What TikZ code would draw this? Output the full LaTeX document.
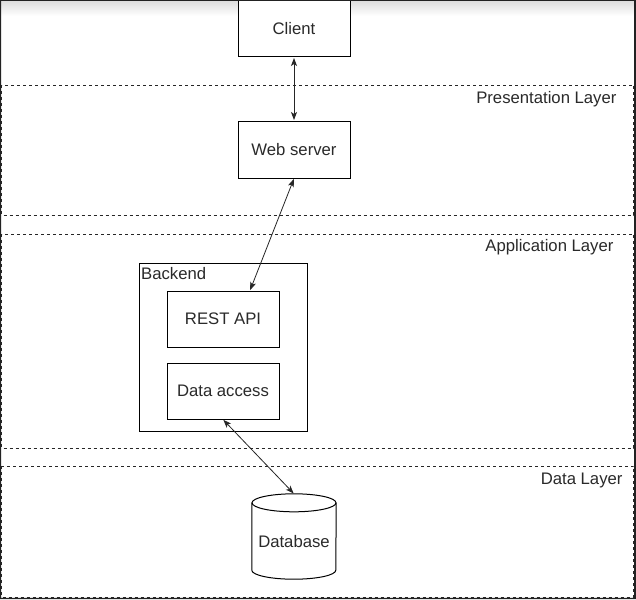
\documentclass[tikz,border=0pt]{standalone}
\usepackage{fontspec}
\setmainfont{Liberation Sans}
\usetikzlibrary{arrows.meta,calc}
\definecolor{ink}{HTML}{2A2A2A}
\definecolor{frame}{HTML}{222222}
\begin{document}
\begin{tikzpicture}[x=1pt,y=-1pt,
  every node/.style={font=\fontsize{16.7}{19}\selectfont, text=ink},
  box/.style={draw=black, line width=1pt, fill=white, minimum width=112pt, minimum height=56pt, inner sep=0pt},
  layer/.style={draw=black!85, line width=0.8pt, dash pattern=on 3pt off 3pt},
  link/.style={draw=black!85, line width=0.8pt, {Stealth[length=8pt,width=6pt,inset=2pt]}-{Stealth[length=8pt,width=6pt,inset=2pt]}, shorten <=0.5pt, shorten >=0.5pt}
]
% page
\useasboundingbox (0,0) rectangle (636,599);
\fill[white] (0,0) rectangle (636,599);
\shade[top color=black!14, bottom color=white] (0,0) rectangle (636,16);

% layer bands
\draw[layer] (1.5,85) rectangle (633.5,215);
\draw[layer] (1.5,234) rectangle (633.5,448);
\draw[layer] (1.5,466) rectangle (633.5,597);
\node[anchor=east] (lpres) at (620,99) {Presentation Layer};
\node[anchor=east] (lapp) at (617,247) {Application Layer};
\node[anchor=east] (ldata) at (626,480) {Data Layer};

% presentation tier
\node[box] (client) at (294,29) {Client};
\node[box, minimum height=57pt] (web) at (294,149.5) {Web server};

% application tier
\node[box, minimum width=168pt, minimum height=168pt] (backend) at (223,347) {};
\node[anchor=north west, inner sep=0pt] (backendlbl) at ($(backend.north west)+(2.5,5)$) {Backend};
\node[box] (rest) at (223,319) {REST API};
\node[box] (dao) at (223,391) {Data access};

% data tier: cylinder around the label node
\node[minimum width=84pt, minimum height=85pt, inner sep=0pt] (db) at (294,536.5) {};
\fill[white] ($(db.north west)+(0,9)$) -- ($(db.south west)+(0,-9)$)
  arc[start angle=180,end angle=0,x radius=42,y radius=9]
  -- ($(db.north east)+(0,9)$) arc[start angle=0,end angle=-180,x radius=42,y radius=9] -- cycle;
\draw[line width=1pt] ($(db.north west)+(0,9)$) -- ($(db.south west)+(0,-9)$)
  arc[start angle=180,end angle=0,x radius=42,y radius=9] -- ($(db.north east)+(0,9)$);
\draw[line width=1pt] ($(db.north)+(0,9)$) ellipse[x radius=42, y radius=9];
\node (dblbl) at ($(db.center)+(0,5)$) {Database};

% connectors
\draw[link] (client.south) -- (web.north);
\draw[link] (web.south) -- ($(rest.north)+(27,0)$);
\draw[link] (dao.south) -- (db.north);

% window frame
\fill[frame, even odd rule] (0,0) rectangle (636,599) (1,1) rectangle (634,597.8);
\end{tikzpicture}
\end{document}
